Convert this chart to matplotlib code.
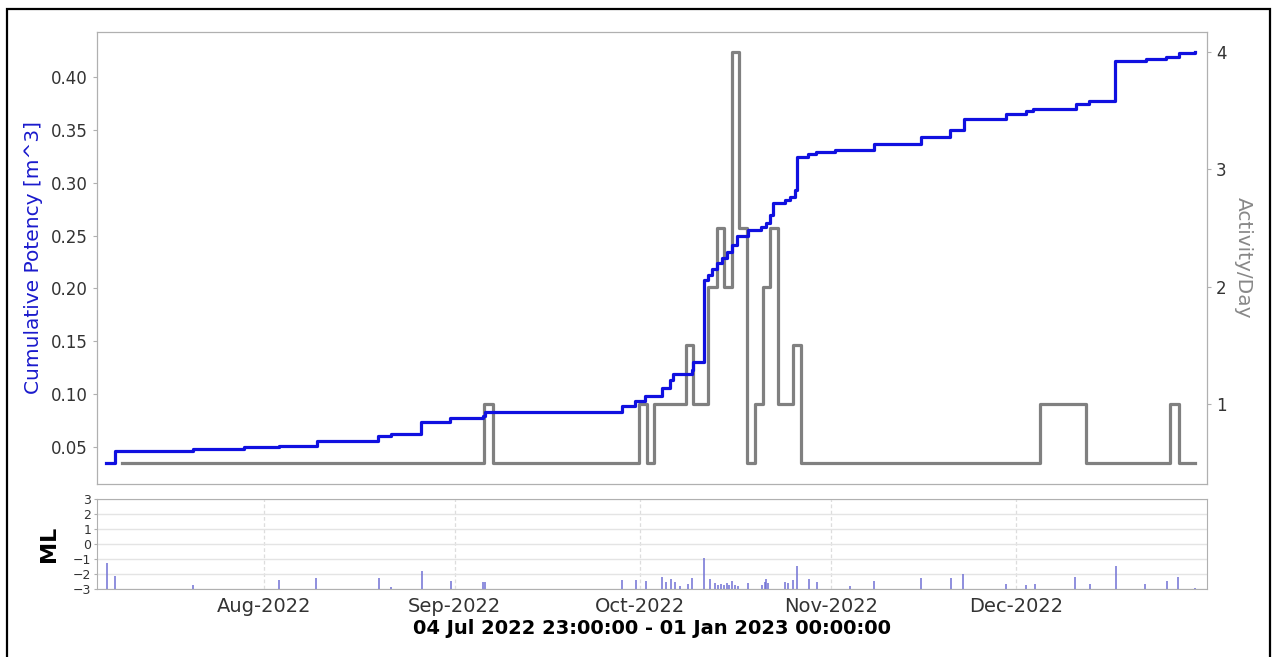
import matplotlib
matplotlib.use("Agg")
import matplotlib.pyplot as plt
import matplotlib.dates as mdates
import numpy as np
import pandas as pd

# time window shown on the chart
start = pd.Timestamp("2022-07-04 23:00")
end = pd.Timestamp("2023-01-01 00:00")

# cumulative potency steps (days since start, m^3)
pot_days = [1.46, 2.92, 15.52, 23.84, 29.51, 35.63, 45.57, 47.67, 52.54, 57.24,
            62.54, 62.92, 85.08, 87.24, 88.86, 91.57, 92.91, 93.40, 96.43, 96.64,
            98.43, 99.08, 99.72, 100.54, 101.35, 102.16, 102.97, 103.78, 105.61, 107.78,
            108.59, 109.13, 109.57, 111.56, 112.37, 113.18, 113.56, 115.29, 116.70, 119.67,
            125.99, 133.61, 138.43, 140.59, 147.51, 150.75, 151.77, 158.75, 160.86, 165.19,
            170.10, 173.46, 175.45, 178.05]
pot_vals = [0.035, 0.0465, 0.048, 0.0497, 0.051, 0.056, 0.060, 0.062, 0.074, 0.077,
            0.079, 0.083, 0.089, 0.0935, 0.098, 0.106, 0.113, 0.119, 0.123, 0.130,
            0.208, 0.213, 0.218, 0.224, 0.229, 0.234, 0.241, 0.250, 0.255, 0.258,
            0.262, 0.2695, 0.281, 0.2837, 0.2865, 0.293, 0.3244, 0.327, 0.329, 0.331,
            0.337, 0.3436, 0.350, 0.360, 0.365, 0.368, 0.3695, 0.374, 0.377, 0.415,
            0.417, 0.4187, 0.4225, 0.424]

# activity per day (days since start, events/day)
act_days = [4.0, 62.80, 64.16, 87.94, 89.14, 90.32, 95.51, 96.69, 99.12, 100.49,
            101.67, 102.92, 104.15, 105.35, 106.70, 107.95, 109.13, 110.48, 112.91, 114.11,
            152.91, 160.48, 174.10, 175.50, 178.05]
act_vals = [0.5, 1, 0.5, 1, 0.5, 1, 1.5, 1, 2, 2.5,
            2, 4, 2.5, 0.5, 1, 2, 2.5, 1, 1.5, 0.5,
            1, 0.5, 1, 0.5, 0.5]

# single events (days since start, magnitude ML)
ev_days = [1.67, 2.97, 15.62, 29.56, 35.51, 45.68, 47.67, 52.75, 57.35, 62.64,
           63.0, 85.18, 87.35, 89.02, 91.67, 92.27, 93.03, 93.73, 94.54, 95.79,
           96.48, 98.48, 99.40, 100.21, 100.70, 101.18, 101.67, 102.16, 102.56, 103.02,
           103.46, 103.94, 105.62, 107.88, 108.32, 108.56, 108.81, 111.56, 112.10, 112.91,
           113.62, 115.50, 116.80, 122.10, 126.04, 133.61, 138.48, 140.47, 147.51, 150.75,
           152.10, 158.70, 161.02, 165.24, 170.05, 173.62, 175.34, 178.05]
ev_ml = [-1.29, -2.13, -2.73, -2.4, -2.29, -2.29, -2.85, -1.78, -2.47, -2.55,
         -2.55, -2.4, -2.4, -2.47, -2.22, -2.51, -2.35, -2.5, -2.79, -2.67,
         -2.25, -0.95, -2.33, -2.6, -2.7, -2.65, -2.7, -2.6, -2.75, -2.47,
         -2.7, -2.8, -2.62, -2.73, -2.55, -2.35, -2.6, -2.5, -2.6, -2.4,
         -1.47, -2.33, -2.55, -2.78, -2.45, -2.29, -2.29, -2.0, -2.67, -2.73,
         -2.67, -2.22, -2.67, -1.45, -2.67, -2.47, -2.22, -2.9]

month_ticks = ["2022-08-01", "2022-09-01", "2022-10-01", "2022-11-01", "2022-12-01"]


def to_dates(days):
    return start + pd.to_timedelta(np.asarray(days), unit="D")


W, H = 1273, 657
fig = plt.figure(figsize=(W / 100, H / 100), dpi=100)

spine_col = "#b0b0b0"
text_col = "#333333"

# main panel
ax = fig.add_axes([97 / W, 1 - 484 / H, 1110 / W, 452 / H])
ax2 = ax.twinx()
ax.set_zorder(ax2.get_zorder() + 1)
ax.patch.set_visible(False)

ax2.step(to_dates(act_days), act_vals, where="post", color="#808080", lw=2.3)
ax.step(to_dates(pot_days), pot_vals, where="post", color="#1010e0", lw=2.3)

ax.set_xlim(start, end)
ax.set_ylim(0.015, 0.4425)
ax2.set_ylim(0.318, 4.17)
ax.set_yticks([0.05, 0.10, 0.15, 0.20, 0.25, 0.30, 0.35, 0.40])
ax.yaxis.set_major_formatter(plt.FormatStrFormatter("%.2f"))
ax2.set_yticks([1, 2, 3, 4])
ax.set_xticks([])
ax.set_ylabel("Cumulative Potency [m^3]", color="#1a1acc", fontsize=14.5, labelpad=6)
ax2.set_ylabel("Activity/Day", color="#888888", fontsize=14.5, rotation=270, labelpad=19)
ax.tick_params(axis="y", labelsize=12, colors=spine_col, labelcolor=text_col, length=3)
ax2.tick_params(axis="y", labelsize=12, colors=spine_col, labelcolor=text_col, length=3)
for a in (ax, ax2):
    for s in a.spines.values():
        s.set_color(spine_col)

# magnitude panel
bx = fig.add_axes([97 / W, 1 - 589 / H, 1110 / W, 90 / H])
bx.vlines(to_dates(ev_days), -3, ev_ml, color="#7070d4", lw=1.1)
bx.set_xlim(start, end)
bx.set_ylim(-3, 3)
bx.set_yticks(range(-3, 4))
bx.yaxis.grid(True, color="#e4e4e4", lw=1)
bx.set_xticks(pd.to_datetime(month_ticks))
bx.xaxis.set_major_formatter(mdates.DateFormatter("%b-%Y"))
bx.xaxis.grid(True, color="#dddddd", lw=0.9, ls=(0, (3, 2)))
bx.set_axisbelow(True)
bx.tick_params(axis="y", labelsize=9, colors=spine_col, labelcolor=text_col, length=2, pad=2)
bx.tick_params(axis="x", labelsize=14, colors=spine_col, labelcolor=text_col, length=0, pad=6)
bx.set_ylabel("ML", fontsize=16, fontweight="bold", labelpad=10)
bx.set_xlabel("04 Jul 2022 23:00:00 - 01 Jan 2023 00:00:00", fontsize=14,
              fontweight="bold", labelpad=2)
for s in bx.spines.values():
    s.set_color(spine_col)

# outer frame around the picture
fig.add_artist(plt.Rectangle((7 / W, -0.01), 1263 / W, 1 - 9 / H + 0.01,
                             transform=fig.transFigure, fill=False, ec="black", lw=1.6))

fig.savefig("out.png", dpi=100)
